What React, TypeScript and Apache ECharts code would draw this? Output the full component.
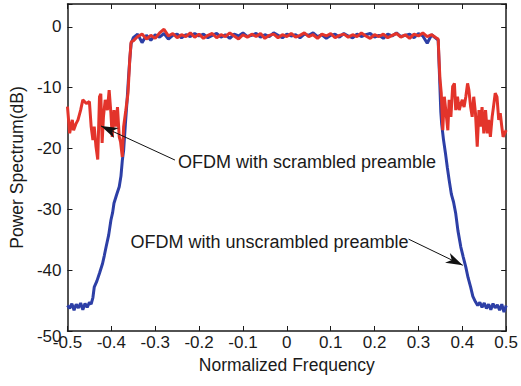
import React, { useEffect, useRef } from "react";
import * as echarts from "echarts";

// In-band frequency grid (normalized frequency)
const bandFreq = [
  -0.35, -0.34, -0.33, -0.32, -0.31, -0.3, -0.29, -0.28, -0.27, -0.26,
  -0.25, -0.24, -0.23, -0.22, -0.21, -0.2, -0.19, -0.18, -0.17, -0.16,
  -0.15, -0.14, -0.13, -0.12, -0.11, -0.1, -0.09, -0.08, -0.07, -0.06,
  -0.05, -0.04, -0.03, -0.02, -0.01, 0.0, 0.01, 0.02, 0.03, 0.04,
  0.05, 0.06, 0.07, 0.08, 0.09, 0.1, 0.11, 0.12, 0.13, 0.14,
  0.15, 0.16, 0.17, 0.18, 0.19, 0.2, 0.21, 0.22, 0.23, 0.24,
  0.25, 0.26, 0.27, 0.28, 0.29, 0.3, 0.31, 0.32, 0.33, 0.34,
];

const scrambledBandDb = [
  -2.3, -1.6, -1.2, -2.0, -1.4, -1.9, -1.0, -0.4, -1.5, -1.1,
  -1.8, -1.3, -1.6, -1.0, -1.7, -1.2, -1.9, -1.4, -1.1, -1.8,
  -1.3, -1.6, -1.0, -1.5, -2.0, -1.3, -1.7, -1.2, -1.6, -1.1,
  -1.9, -1.4, -1.2, -1.8, -1.3, -1.6, -1.1, -1.7, -1.4, -1.0,
  -1.6, -1.3, -1.9, -1.2, -1.5, -1.1, -1.8, -1.4, -1.2, -1.7,
  -1.3, -1.6, -1.0, -1.5, -1.9, -1.3, -1.6, -1.2, -1.8, -1.4,
  -1.1, -1.7, -1.3, -1.9, -1.2, -1.5, -1.0, -1.6, -1.3, -1.8,
];

const unscrambledBandDb = [
  -1.8, -1.2, -2.6, -1.4, -2.2, -1.3, -1.7, -1.1, -2.0, -1.4,
  -1.2, -1.8, -1.3, -1.6, -1.1, -1.5, -1.2, -1.8, -1.4, -1.1,
  -1.7, -1.3, -1.9, -1.2, -1.5, -1.0, -1.6, -1.4, -1.1, -1.7,
  -1.3, -1.6, -1.0, -1.4, -1.8, -1.2, -1.5, -1.3, -1.8, -1.2,
  -1.4, -1.0, -1.6, -1.3, -1.9, -1.4, -1.2, -1.7, -1.1, -1.5,
  -1.8, -1.2, -1.6, -1.3, -1.1, -1.7, -1.4, -1.9, -1.2, -1.5,
  -1.0, -1.6, -1.4, -1.2, -1.8, -1.1, -1.5, -2.7, -1.3, -1.9,
];

// Out-of-band parts: [frequency, dB]
const scrambledLeft = [
  [-0.5, -13.1], [-0.495, -17.5], [-0.489, -15.3], [-0.486, -17.0], [-0.481, -16.0],
  [-0.476, -15.3], [-0.47, -13.7], [-0.465, -12.0], [-0.457, -12.6], [-0.45, -12.3],
  [-0.446, -16.4], [-0.442, -18.6], [-0.439, -16.4], [-0.435, -19.7], [-0.431, -21.8],
  [-0.427, -11.5], [-0.424, -11.0], [-0.421, -19.1], [-0.418, -14.8], [-0.414, -12.0],
  [-0.409, -13.7], [-0.405, -10.4], [-0.401, -14.2], [-0.398, -18.1], [-0.394, -13.7],
  [-0.39, -16.4], [-0.386, -13.2], [-0.382, -18.1], [-0.379, -18.9], [-0.375, -21.4],
  [-0.372, -16.4], [-0.367, -13.7], [-0.362, -10.9], [-0.358, -5.4], [-0.355, -2.5],
];

const scrambledRight = [
  [0.345, -2.0], [0.347, -5.5], [0.349, -8.5], [0.352, -10.9], [0.3555, -17.0],
  [0.359, -11.5], [0.363, -14.2], [0.367, -17.0], [0.37, -12.0], [0.374, -14.8],
  [0.378, -9.8], [0.382, -9.3], [0.385, -13.7], [0.389, -11.5], [0.393, -13.7],
  [0.397, -12.6], [0.4, -12.0], [0.404, -13.2], [0.408, -11.5], [0.412, -9.3],
  [0.415, -10.4], [0.419, -13.2], [0.4225, -14.8], [0.426, -11.5], [0.43, -14.2],
  [0.434, -19.7], [0.438, -13.7], [0.441, -16.4], [0.445, -13.2], [0.449, -17.5],
  [0.453, -13.7], [0.457, -17.5], [0.46, -15.3], [0.464, -18.1], [0.468, -14.8],
  [0.471, -13.2], [0.475, -10.9], [0.479, -11.5], [0.483, -15.3], [0.4865, -14.2],
  [0.49, -16.4], [0.493, -18.1], [0.5, -17.0],
];

const unscrambledLeft = [
  [-0.5, -45.8], [-0.495, -46.3], [-0.49, -45.5], [-0.485, -46.6], [-0.48, -45.6],
  [-0.475, -46.2], [-0.47, -45.4], [-0.465, -46.5], [-0.46, -45.5], [-0.455, -46.1],
  [-0.45, -45.3], [-0.446, -45.6], [-0.442, -44.5], [-0.439, -42.8], [-0.433, -41.8],
  [-0.427, -40.5], [-0.42, -38.9], [-0.416, -37.6], [-0.412, -36.2], [-0.406, -34.2],
  [-0.401, -31.8], [-0.397, -30.5], [-0.394, -29.0], [-0.388, -27.6], [-0.382, -26.3],
  [-0.378, -24.5], [-0.375, -22.0], [-0.372, -20.3], [-0.368, -16.0], [-0.364, -12.0],
  [-0.361, -8.5], [-0.358, -5.4], [-0.355, -2.8],
];

const unscrambledRight = [
  [0.345, -2.2], [0.348, -8.0], [0.351, -14.0], [0.353, -16.0], [0.357, -18.5],
  [0.362, -21.0], [0.366, -23.2], [0.37, -25.2], [0.375, -27.5], [0.38, -28.8],
  [0.385, -30.7], [0.39, -33.5], [0.3966, -36.2], [0.402, -37.8], [0.408, -39.5],
  [0.413, -41.2], [0.419, -42.8], [0.424, -44.3], [0.43, -45.2], [0.435, -45.8],
  [0.44, -45.3], [0.445, -46.1], [0.45, -45.4], [0.455, -46.3], [0.46, -45.6],
  [0.465, -46.5], [0.47, -45.5], [0.475, -46.2], [0.48, -45.7], [0.485, -46.6],
  [0.49, -45.6], [0.495, -46.9], [0.5, -45.8],
];

// Annotations: text anchor and arrow (start -> tip) in data coordinates
const scrambledLabel = "OFDM with scrambled preamble";
const scrambledTextAt = [-0.2483, -22.2];
const scrambledArrow = [[-0.255, -21.9], [-0.4236, -16.3]];
const unscrambledLabel = "OFDM with unscrambled preamble";
const unscrambledTextAt = [0.2775, -35.4];
const unscrambledArrow = [[0.2775, -34.9], [0.401, -39.2]];

const FONT = "'Liberation Sans', Arial, Helvetica, sans-serif";

function buildSeries(left: number[][], band: number[], right: number[][]) {
  return [...left, ...bandFreq.map((f, i) => [f, band[i]]), ...right];
}

function arrowHead(from: number[], tip: number[], len: number, half: number) {
  const dx = tip[0] - from[0];
  const dy = tip[1] - from[1];
  const d = Math.hypot(dx, dy) || 1;
  const ux = dx / d, uy = dy / d;
  const nx = -uy, ny = ux;
  return [
    [tip[0], tip[1]],
    [tip[0] - len * ux + half * nx, tip[1] - len * uy + half * ny],
    [tip[0] - 0.72 * len * ux, tip[1] - 0.72 * len * uy],
    [tip[0] - len * ux - half * nx, tip[1] - len * uy - half * ny],
  ];
}

export default function App() {
  const ref = useRef<HTMLDivElement>(null);
  useEffect(() => {
    if (!ref.current) return;
    const chart = echarts.init(ref.current, undefined, { renderer: "svg" });
    const axisLine = { show: true, onZero: false, lineStyle: { color: "#1a1a1a", width: 1.5 } };
    const tick = { show: true, inside: true, length: 5, lineStyle: { color: "#1a1a1a", width: 1 } };
    const xFmt = (v: number) => (Math.abs(v) < 1e-9 ? "0" : v.toFixed(1));
    const yFmt = (v: number) => {
      if (Math.abs(v % 10) > 1e-9) return "";
      const r = Math.round(v);
      return r === -50 ? "{low|" + r + "}" : String(r);
    };
    chart.setOption({
      animation: false,
      backgroundColor: "#ffffff",
      grid: { left: 66, right: 10, top: 4, bottom: 55, containLabel: false },
      xAxis: [
        {
          type: "value", min: -0.5, max: 0.5, interval: 0.1, position: "bottom",
          axisLine, axisTick: tick, splitLine: { show: false },
          axisLabel: { formatter: xFmt, fontSize: 17, color: "#1a1a1a", margin: 3, fontFamily: FONT },
          name: "Normalized Frequency", nameLocation: "middle", nameGap: 22,
          nameTextStyle: { fontSize: 17.5, color: "#1a1a1a", fontFamily: FONT },
        },
        {
          type: "value", min: -0.5, max: 0.5, interval: 0.1, position: "top",
          axisLine, axisTick: tick, splitLine: { show: false }, axisLabel: { show: false },
        },
      ],
      yAxis: [
        {
          type: "value", min: -50, max: 3.75, interval: 10, position: "left",
          axisLine, axisTick: tick, splitLine: { show: false },
          axisLabel: {
            formatter: yFmt, fontSize: 17, color: "#1a1a1a", margin: 6, fontFamily: FONT,
            rich: { low: { fontSize: 17, color: "#1a1a1a", fontFamily: FONT, padding: [10, 0, 0, 0] } },
          },
          name: "Power Spectrum(dB)", nameLocation: "middle", nameGap: 35,
          nameTextStyle: { fontSize: 17.5, color: "#1a1a1a", fontFamily: FONT },
        },
        {
          type: "value", min: -50, max: 3.75, interval: 10, position: "right",
          axisLine, axisTick: tick, splitLine: { show: false }, axisLabel: { show: false },
        },
      ],
      series: [
        {
          type: "line", name: "unscrambled", showSymbol: false, symbol: "none",
          data: buildSeries(unscrambledLeft, unscrambledBandDb, unscrambledRight),
          lineStyle: { color: "#2d3fa6", width: 3 }, z: 2,
        },
        {
          type: "line", name: "scrambled", showSymbol: false, symbol: "none",
          data: buildSeries(scrambledLeft, scrambledBandDb, scrambledRight),
          lineStyle: { color: "#e3342b", width: 3 }, z: 3,
          markLine: {
            silent: true,
            symbol: ["none", "none"],
            label: { show: false },
            lineStyle: { color: "#111", width: 1, type: "solid" },
            emphasis: { disabled: true },
            data: [
              [{ coord: scrambledArrow[0] }, { coord: scrambledArrow[1] }],
              [{ coord: unscrambledArrow[0] }, { coord: unscrambledArrow[1] }],
            ],
          },
        },
      ],
    });
    const toPx = (p: number[]) => chart.convertToPixel({ gridIndex: 0 }, p) as number[];
    const p1 = toPx(scrambledTextAt);
    const p2 = toPx(unscrambledTextAt);
    const h1 = arrowHead(toPx(scrambledArrow[0]), toPx(scrambledArrow[1]), 17, 5.5);
    const h2 = arrowHead(toPx(unscrambledArrow[0]), toPx(unscrambledArrow[1]), 17, 5.5);
    chart.setOption({
      graphic: [
        { type: "polygon", z: 20, shape: { points: h1 }, style: { fill: "#111" } },
        { type: "polygon", z: 20, shape: { points: h2 }, style: { fill: "#111" } },
        {
          type: "text", x: p1[0], y: p1[1], z: 10,
          style: { text: scrambledLabel, fontSize: 18, fontFamily: FONT, fill: "#1a1a1a", align: "left", verticalAlign: "middle" },
        },
        {
          type: "text", x: p2[0], y: p2[1], z: 10,
          style: { text: unscrambledLabel, fontSize: 18, fontFamily: FONT, fill: "#1a1a1a", align: "right", verticalAlign: "middle" },
        },
      ],
    });
    return () => chart.dispose();
  }, []);
  return <div ref={ref} style={{ width: 521, height: 386, position: "absolute", left: 0, top: 0 }} />;
}
